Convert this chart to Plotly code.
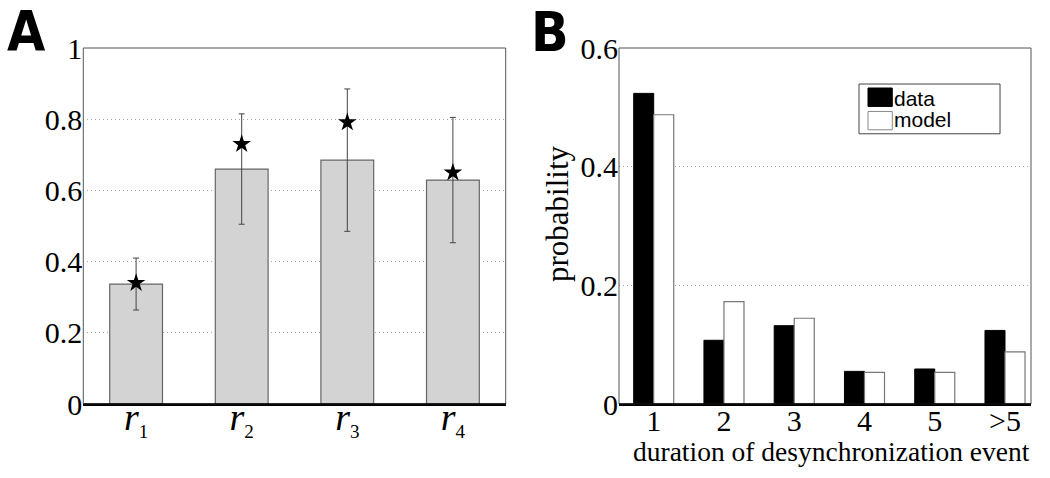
import plotly.graph_objects as go

# ---- Panel A data ----
a_categories = [1, 2, 3, 4]
a_ticklabels = ["<i>r</i><sub><span style='font-size:19px'>%d</span></sub>" % i for i in a_categories]
a_bar_values = [0.337, 0.660, 0.685, 0.629]
a_errors = [0.073, 0.155, 0.200, 0.176]
a_star_values = [0.340, 0.730, 0.791, 0.650]

# ---- Panel B data ----
b_categories = [1, 2, 3, 4, 5, 6]
b_ticklabels = ["1", "2", "3", "4", "5", ">5"]
b_data = [0.5235, 0.1074, 0.132, 0.055, 0.059, 0.124]
b_model = [0.4875, 0.1726, 0.1445, 0.0534, 0.0534, 0.088]

SERIF = "Liberation Serif, Times New Roman, serif"
SANS = "Liberation Sans, Arial, sans-serif"
BOLDCOND = "Liberation Sans Narrow, DejaVu Sans Condensed, Liberation Sans, Arial, sans-serif"

fig = go.Figure()

fig.add_trace(go.Bar(
    x=a_categories, y=a_bar_values, width=0.5,
    marker=dict(color="#d3d3d3", line=dict(color="#666666", width=1.2)),
    error_y=dict(type="data", array=a_errors, visible=True, color="#444444", thickness=1, width=3),
    xaxis="x", yaxis="y", showlegend=False, name="r",
))
fig.add_trace(go.Scatter(
    x=a_categories, y=a_star_values, mode="markers",
    marker=dict(symbol="star", size=14, color="black"),
    xaxis="x", yaxis="y", showlegend=False, name="model",
))

fig.add_trace(go.Bar(
    x=b_categories, y=b_data, width=0.285, offset=-0.285,
    marker=dict(color="black", line=dict(color="black", width=1)),
    xaxis="x2", yaxis="y2", showlegend=False, name="data",
))
fig.add_trace(go.Bar(
    x=b_categories, y=b_model, width=0.285, offset=0,
    marker=dict(color="white", line=dict(color="#777777", width=1.2)),
    xaxis="x2", yaxis="y2", showlegend=False, name="model",
))

W, H = 1050, 478
ax_a = [83.3 / W, 505.7 / W]
ax_b = [619 / W, 1031 / W]
ydom = [1 - 404 / H, 1 - 48 / H]

tickfont = dict(family=SERIF, size=30, color="black")
grid = dict(showgrid=True, gridcolor="#a8a8a8", gridwidth=1, griddash="1px,3px")

fig.update_layout(
    width=W, height=H,
    margin=dict(l=0, r=0, t=0, b=0),
    paper_bgcolor="white", plot_bgcolor="white",
    barmode="overlay",
    xaxis=dict(domain=ax_a, range=[0.5, 4.5], tickvals=a_categories, ticktext=a_ticklabels,
               tickfont=dict(family=SERIF, size=38, color="black"), ticks="", showgrid=False,
               showline=True, linecolor="black", linewidth=1.5, zeroline=False, automargin=False,
               anchor="y", ticklabelstandoff=-21),
    yaxis=dict(domain=ydom, range=[0, 1], dtick=0.2, tickfont=tickfont, ticks="",
               showline=False, zeroline=False, automargin=False, anchor="x", **grid),
    xaxis2=dict(domain=ax_b, range=[0.506, 6.37], tickvals=b_categories, ticktext=b_ticklabels,
                tickfont=tickfont, ticks="", showgrid=False,
                showline=True, linecolor="black", linewidth=1.5, zeroline=False, automargin=False,
                anchor="y2", ticklabelstandoff=-11),
    yaxis2=dict(domain=ydom, range=[0, 0.6], dtick=0.2, tickfont=tickfont, ticks="",
                showline=False, zeroline=False, automargin=False, anchor="x2", **grid),
)

# axis titles
fig.add_annotation(xref="paper", yref="paper", x=831.5 / W, y=1 - 451 / H,
                   text="duration of desynchronization event", showarrow=False,
                   xanchor="center", yanchor="middle", font=dict(family=SERIF, size=27.5, color="black"))
fig.add_annotation(xref="paper", yref="paper", x=557 / W, y=1 - 214 / H,
                   text="probability", showarrow=False, textangle=-90,
                   xanchor="center", yanchor="middle", font=dict(family=SERIF, size=31, color="black"))

# frames
for xr, yr in (("x domain", "y domain"), ("x2 domain", "y2 domain")):
    fig.add_shape(type="rect", xref=xr, yref=yr, x0=0, x1=1, y0=0, y1=1,
                  line=dict(color="#555555", width=1), fillcolor="rgba(0,0,0,0)", layer="above")
    fig.add_shape(type="line", xref=xr, yref=yr, x0=0, x1=1, y0=0, y1=0,
                  line=dict(color="black", width=1.5), layer="above")

# custom legend in panel B
fig.add_shape(type="rect", xref="x2 domain", yref="y2 domain", x0=0.5825, x1=0.9248, y0=0.759, y1=0.8988,
              line=dict(color="#444444", width=1), fillcolor="white", layer="above")
fig.add_shape(type="rect", xref="x2 domain", yref="y2 domain", x0=0.6044, x1=0.6633, y0=0.8358, y1=0.8876,
              line=dict(color="black", width=1), fillcolor="black", layer="above")
fig.add_shape(type="rect", xref="x2 domain", yref="y2 domain", x0=0.6044, x1=0.6633, y0=0.7703, y1=0.8218,
              line=dict(color="#888888", width=1), fillcolor="white", layer="above")
fig.add_annotation(xref="x2 domain", yref="y2 domain", x=0.6630, y=0.8594, text="data", showarrow=False,
                   xanchor="left", yanchor="middle", font=dict(family=SANS, size=21, color="black"))
fig.add_annotation(xref="x2 domain", yref="y2 domain", x=0.6630, y=0.7984, text="model", showarrow=False,
                   xanchor="left", yanchor="middle", font=dict(family=SANS, size=21, color="black"))

# panel labels
fig.add_annotation(xref="paper", yref="paper", x=26.5 / W, y=1 - 31 / H, text="<b>A</b>", showarrow=False,
                   xanchor="center", yanchor="middle", font=dict(family=BOLDCOND, size=55, color="black"))
fig.add_annotation(xref="paper", yref="paper", x=550 / W, y=1 - 32 / H, text="<b>B</b>", showarrow=False,
                   xanchor="center", yanchor="middle", font=dict(family=BOLDCOND, size=55, color="black"))

fig.write_html("out.html", config={"displayModeBar": False},
               post_script="document.body.style.margin='0';document.body.style.overflow='hidden';")
